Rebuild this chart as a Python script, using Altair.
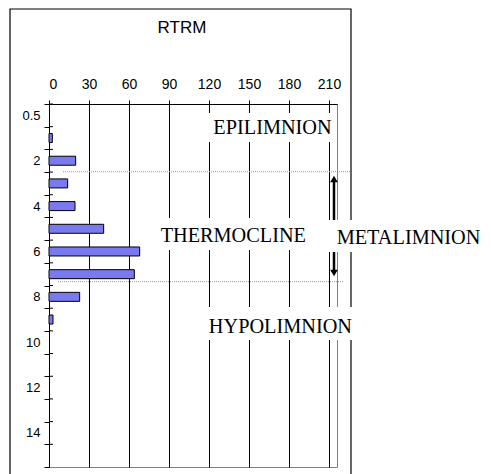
import altair as alt
import pandas as pd

# ---- data ----
depths = ["0.5", "1", "2", "3", "4", "5", "6", "7", "8", "9", "10", "11", "12", "13", "14", "15"]
rtrm = [0, 2.5, 20, 14, 19.5, 41, 68, 64, 23, 3, 0, 0, 0, 0, 0, 0]
y_labels = ["0.5", "2", "4", "6", "8", "10", "12", "14"]
x_ticks = [0, 30, 60, 90, 120, 150, 180, 210]
zones = ["EPILIMNION", "THERMOCLINE", "METALIMNION", "HYPOLIMNION"]

df = pd.DataFrame({"depth": depths, "rtrm": rtrm})

W, H = 288, 363
SERIF = "Liberation Serif"
SANS = "Liberation Sans"

xscale = alt.Scale(domain=[0, 216], nice=False, zero=True)
yscale = alt.Scale(domain=depths, paddingInner=0, paddingOuter=0)

label_expr = "indexof([" + ",".join("'%s'" % v for v in y_labels) + "], datum.label) >= 0 ? datum.label : ''"

base = alt.Chart(df)

bars = base.mark_bar(size=9, color="#7a7af0", stroke="black", strokeWidth=1).encode(
    x=alt.X("rtrm:Q", scale=xscale,
            axis=alt.Axis(orient="top", values=x_ticks, title=None, grid=True,
                          gridColor="black", gridOpacity=1, gridWidth=1,
                          domainColor="black", tickColor="black", tickSize=4,
                          labelFontSize=14, labelFont=SANS, labelColor="black",
                          labelPadding=9)),
    y=alt.Y("depth:N", scale=yscale, sort=depths,
            axis=alt.Axis(title=None, tickBand="extent", tickSize=5, tickColor="black",
                          domainColor="black", labelFontSize=13, labelFont=SANS,
                          labelColor="black", labelPadding=4, labelExpr=label_expr,
                          labelOverlap=False)),
).transform_filter("datum.rtrm > 0")

# inner half of the crossing tick marks on the depth axis
inner_ticks = base.mark_rule(color="black", strokeWidth=1).encode(
    y=alt.Y("depth:N", scale=yscale, sort=depths, bandPosition=0),
    x=alt.value(0), x2=alt.value(4),
)

one = pd.DataFrame({"k": [0]})

frame = alt.Chart(one).mark_rect(fill=None, stroke="black", strokeWidth=1.2).encode(
    x=alt.value(-39), x2=alt.value(302), y=alt.value(-95), y2=alt.value(420))

dot1 = alt.Chart(one).mark_rule(color="#999999", strokeWidth=1, strokeDash=[1, 1]).encode(
    x=alt.value(14), x2=alt.value(301), y=alt.value(67.7))
dot2 = alt.Chart(one).mark_rule(color="#999999", strokeWidth=1, strokeDash=[1, 1]).encode(
    x=alt.value(9), x2=alt.value(294), y=alt.value(177.7))

shaft = alt.Chart(one).mark_rule(color="black", strokeWidth=2.5).encode(
    x=alt.value(285), y=alt.value(76), y2=alt.value(168))
head_up = alt.Chart(one).mark_point(shape="triangle-up", filled=True, color="black",
                                    opacity=1, size=60).encode(
    x=alt.value(285), y=alt.value(75))
head_dn = alt.Chart(one).mark_point(shape="triangle-down", filled=True, color="black",
                                    opacity=1, size=60).encode(
    x=alt.value(285), y=alt.value(169))

boxes_px = [(156, 286, 9, 38), (106, 261, 114, 146), (279, 437, 116, 148), (156, 306, 203, 236)]
text_px = [(223.5, 24), (184.3, 132), (359.5, 133.5), (231.4, 223)]

layers = [frame, bars, inner_ticks, dot1, dot2, shaft, head_up, head_dn]
for (x1, x2, y1, y2) in boxes_px:
    layers.append(alt.Chart(one).mark_rect(fill="white", stroke=None).encode(
        x=alt.value(x1), x2=alt.value(x2), y=alt.value(y1), y2=alt.value(y2)))
for name, (tx, ty) in zip(zones, text_px):
    layers.append(alt.Chart(pd.DataFrame({"zone": [name]})).mark_text(
        font=SERIF, fontSize=20.3, color="black", align="center", baseline="middle").encode(
        text="zone:N", x=alt.value(tx), y=alt.value(ty)))

chart = alt.layer(*layers).properties(
    width=W, height=H,
    title=alt.TitleParams("RTRM", font=SANS, fontSize=17, fontWeight="normal",
                          color="black", anchor="middle", dx=-11, offset=0, dy=29),
    autosize=alt.AutoSizeParams(type="none"),
    padding={"left": 41, "top": 96, "right": 146, "bottom": 10},
).configure_view(stroke="#808080", strokeWidth=1)

chart.save("out.html", embed_options={"renderer": "svg", "actions": False})
